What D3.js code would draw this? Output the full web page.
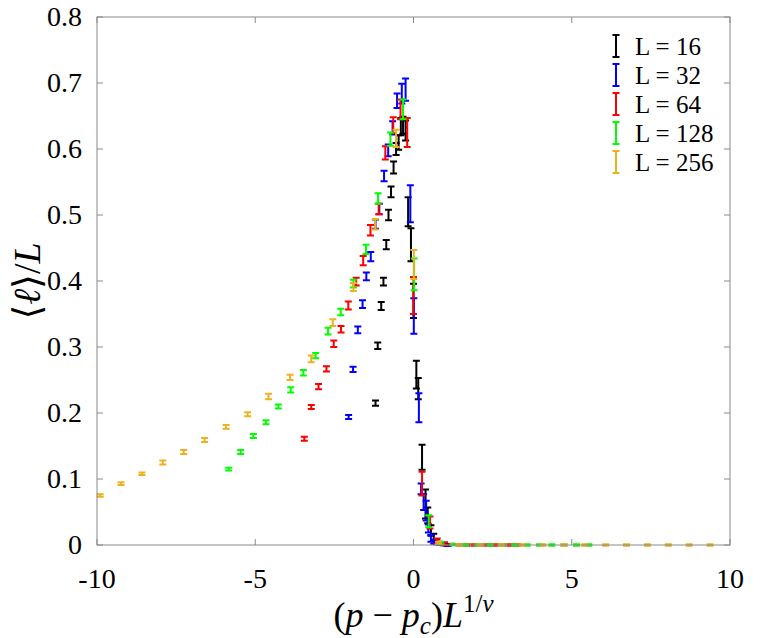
<!DOCTYPE html>
<html>
<head>
<meta charset="utf-8">
<script src="https://d3js.org/d3.v7.min.js"></script>
<style>
  body { margin: 0; background: #fff; }
  svg text { font-family: 'Liberation Serif', 'DejaVu Serif', serif; fill: #000; }
</style>
</head>
<body>
<div id="chart"></div>
<script>
// finite-size scaling data: x = (p - pc) L^(1/nu), y = <l>/L, err = half error bar
const x16 = [-1.20,-1.13,-1.02,-0.95,-0.86,-0.79,-0.71,-0.63,-0.55,-0.47,-0.40,-0.33,-0.25,-0.17,-0.08,0.00,0.09,0.15,0.27,0.38,0.45,0.55,0.64,0.72,0.80,0.88,0.97,1.06];
const y16 = [0.215,0.302,0.362,0.399,0.455,0.500,0.535,0.572,0.600,0.610,0.634,0.636,0.628,0.505,0.455,0.370,0.258,0.237,0.133,0.062,0.045,0.022,0.012,0.006,0.003,0.001,0.0005,0];
const e16 = [0.004,0.005,0.006,0.006,0.007,0.008,0.008,0.009,0.009,0.011,0.013,0.013,0.015,0.022,0.025,0.026,0.021,0.016,0.019,0.022,0.012,0.008,0.005,0.003,0.002,0.001,0.001,0.001];

const x32 = [-2.05,-1.91,-1.76,-1.61,-1.49,-1.35,-1.20,-1.08,-0.93,-0.80,-0.66,-0.52,-0.37,-0.25,-0.10,0.01,0.17,0.24,0.32,0.40,0.47,0.55,0.64,0.73,0.83,0.95,1.10];
const y32 = [0.194,0.266,0.326,0.365,0.407,0.437,0.486,0.509,0.559,0.598,0.632,0.673,0.684,0.690,0.517,0.347,0.208,0.085,0.065,0.052,0.025,0.010,0.005,0.003,0.001,0.0005,0];
const e32 = [0.003,0.004,0.005,0.006,0.006,0.007,0.007,0.008,0.008,0.009,0.010,0.011,0.015,0.017,0.028,0.027,0.022,0.008,0.012,0.015,0.006,0.005,0.003,0.002,0.001,0.001,0.001];

const x64 = [-3.45,-3.23,-3.00,-2.75,-2.52,-2.29,-2.06,-1.81,-1.59,-1.36,-1.10,-0.89,-0.64,-0.41,-0.20,0.00,0.27,0.52,0.75,0.98,1.22,1.45,1.68,1.91,2.14,2.37,2.60,2.83,3.06,3.29];
const y64 = [0.161,0.209,0.240,0.267,0.305,0.327,0.363,0.399,0.431,0.477,0.509,0.594,0.636,0.660,0.625,0.378,0.093,0.034,0.006,0.002,0.001,0,0,0,0,0,0,0,0,0];
const e64 = [0.003,0.003,0.004,0.004,0.005,0.005,0.006,0.006,0.007,0.008,0.008,0.010,0.012,0.015,0.022,0.028,0.018,0.009,0.004,0.002,0.001,0.001,0.001,0.001,0.001,0.001,0.001,0.001,0.001,0.001];

const x128 = [-5.84,-5.46,-5.06,-4.66,-4.27,-3.88,-3.48,-3.09,-2.70,-2.30,-1.90,-1.50,-1.12,-0.73,-0.33,0.02,0.48,0.86,1.25,1.64,2.03,2.42,2.81,3.20,3.59,3.98,4.37,4.76,5.15,5.54];
const y128 = [0.115,0.141,0.165,0.186,0.210,0.235,0.261,0.287,0.324,0.353,0.396,0.448,0.525,0.615,0.660,0.410,0.036,0.003,0.0005,0,0,0,0,0,0,0,0,0,0,0];
const e128 = [0.002,0.003,0.003,0.003,0.003,0.004,0.004,0.004,0.005,0.005,0.006,0.007,0.008,0.010,0.015,0.024,0.009,0.002,0.001,0.001,0.001,0.001,0.001,0.001,0.001,0.001,0.001,0.001,0.001,0.001];

const x256 = [-9.90,-9.24,-8.58,-7.92,-7.26,-6.60,-5.92,-5.24,-4.58,-3.90,-3.23,-2.55,-1.90,-1.21,-0.55,0.01,0.79,1.45,2.11,2.77,3.43,4.09,4.75,5.41,6.07,6.73,7.39,8.05,8.71,9.37];
const y256 = [0.075,0.093,0.108,0.125,0.141,0.159,0.179,0.198,0.225,0.254,0.282,0.337,0.391,0.486,0.616,0.425,0.003,0,0,0,0,0,0,0,0,0,0,0,0,0];
const e256 = [0.002,0.002,0.002,0.003,0.003,0.003,0.003,0.003,0.004,0.004,0.005,0.005,0.006,0.008,0.013,0.022,0.002,0.001,0.001,0.001,0.001,0.001,0.001,0.001,0.001,0.001,0.001,0.001,0.001,0.001];

const seriesNames = ["L = 16", "L = 32", "L = 64", "L = 128", "L = 256"];
const seriesColors = ["#000000", "#0000ff", "#ff0000", "#00ff00", "#edb120"];
const xTicks = [-10, -5, 0, 5, 10];
const yTicks = [0, 0.1, 0.2, 0.3, 0.4, 0.5, 0.6, 0.7, 0.8];

const series = [
  {x: x16, y: y16, e: e16},
  {x: x32, y: y32, e: e32},
  {x: x64, y: y64, e: e64},
  {x: x128, y: y128, e: e128},
  {x: x256, y: y256, e: e256}
];

const W = 771, H = 638;
const m = {left: 97, top: 17, right: 41, bottom: 93};
const iw = W - m.left - m.right, ih = H - m.top - m.bottom;

const svg = d3.select("#chart").append("svg")
  .attr("width", W).attr("height", H);

const x = d3.scaleLinear().domain([-10, 10]).range([m.left, m.left + iw]);
const y = d3.scaleLinear().domain([0, 0.8]).range([m.top + ih, m.top]);

const axisColor = "#8a8a8a";
const tickLen = 6;

// error bars, drawn in series order so larger L sits on top
const capW = 3.5;
series.forEach((s, i) => {
  const g = svg.append("g")
    .attr("stroke", seriesColors[i])
    .attr("stroke-width", 2)
    .attr("fill", "none");
  s.x.forEach((xv, k) => {
    const cx = x(xv);
    const y0 = y(s.y[k] - s.e[k]);
    const y1 = y(s.y[k] + s.e[k]);
    g.append("path")
      .attr("d", `M${cx},${y0}V${y1}M${cx - capW},${y0}H${cx + capW}M${cx - capW},${y1}H${cx + capW}`);
  });
});

// axes box
svg.append("rect")
  .attr("x", m.left).attr("y", m.top)
  .attr("width", iw).attr("height", ih)
  .attr("fill", "none").attr("stroke", axisColor).attr("stroke-width", 1);

const ticks = svg.append("g").attr("stroke", axisColor).attr("stroke-width", 1);
xTicks.forEach(t => {
  ticks.append("line").attr("x1", x(t)).attr("x2", x(t)).attr("y1", m.top + ih).attr("y2", m.top + ih - tickLen);
  ticks.append("line").attr("x1", x(t)).attr("x2", x(t)).attr("y1", m.top).attr("y2", m.top + tickLen);
});
yTicks.forEach(t => {
  ticks.append("line").attr("x1", m.left).attr("x2", m.left + tickLen).attr("y1", y(t)).attr("y2", y(t));
  ticks.append("line").attr("x1", m.left + iw).attr("x2", m.left + iw - tickLen).attr("y1", y(t)).attr("y2", y(t));
});

svg.append("g").selectAll("text")
  .data(xTicks).enter().append("text")
  .attr("x", d => x(d)).attr("y", m.top + ih + 43)
  .attr("text-anchor", "middle")
  .style("font-size", "28px")
  .text(d => d);

svg.append("g").selectAll("text")
  .data(yTicks).enter().append("text")
  .attr("x", m.left - 15).attr("y", d => y(d) + 9)
  .attr("text-anchor", "end")
  .style("font-size", "28px")
  .text(d => d);

// axis labels
const xl = svg.append("text")
  .attr("x", x(0)).attr("y", 627)
  .attr("text-anchor", "middle")
  .style("font-size", "36px");
xl.append("tspan").text("(");
xl.append("tspan").style("font-style", "italic").text("p");
xl.append("tspan").text(" \u2212 ");
xl.append("tspan").style("font-style", "italic").text("p");
xl.append("tspan").style("font-style", "italic").style("font-size", "25px").attr("dy", 7).text("c");
xl.append("tspan").attr("dy", -7).text(")");
xl.append("tspan").style("font-style", "italic").text("L");
xl.append("tspan").style("font-size", "25px").attr("dy", -15).text("1/");
xl.append("tspan").style("font-size", "25px").style("font-style", "italic").text("\u03bd");

const yl = svg.append("text")
  .attr("transform", `translate(40,${m.top + ih / 2}) rotate(-90)`)
  .attr("text-anchor", "middle")
  .style("font-size", "38px");
yl.append("tspan").text("\u27e8");
yl.append("tspan").style("font-style", "italic").text("\u2113");
yl.append("tspan").text("\u27e9/");
yl.append("tspan").style("font-style", "italic").text("L");

// legend
const leg = svg.append("g");
seriesNames.forEach((name, i) => {
  const ly = 46 + i * 29;
  const lx = 616;
  leg.append("path")
    .attr("d", `M${lx},${ly - 11}V${ly + 11}M${lx - capW},${ly - 11}H${lx + capW}M${lx - capW},${ly + 11}H${lx + capW}`)
    .attr("stroke", seriesColors[i]).attr("stroke-width", 2).attr("fill", "none");
  leg.append("text")
    .attr("x", 635).attr("y", ly + 9)
    .style("font-size", "25px")
    .text(name);
});
</script>
</body>
</html>
